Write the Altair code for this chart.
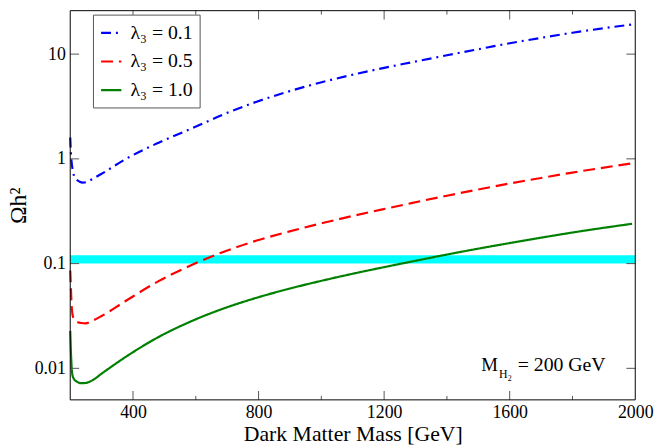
import altair as alt
import pandas as pd

# ---------------- data ----------------
SERIES = ["λ₃ = 0.1", "λ₃ = 0.5", "λ₃ = 1.0"]

mass_01 = [200, 202, 204, 208, 212, 220, 230, 240, 255, 270, 300, 375, 480, 585,
           690, 794, 899, 1004, 1109, 1200, 1287, 1400, 1497, 1600, 1706, 1800, 1990]
omega_01 = [1.60, 1.15, 0.95, 0.78, 0.69, 0.635, 0.605, 0.593, 0.605, 0.64, 0.72,
            0.99, 1.42, 1.94, 2.67, 3.51, 4.43, 5.42, 6.45, 7.40, 8.35, 9.75, 11.1,
            12.7, 14.4, 16.0, 19.2]

mass_05 = [200, 202, 204, 207, 212, 220, 235, 249, 270, 300, 375, 480, 585, 690,
           794, 899, 1004, 1109, 1200, 1287, 1400, 1497, 1600, 1706, 1800, 1990]
omega_05 = [0.086, 0.06, 0.042, 0.033, 0.0295, 0.028, 0.0271, 0.0269, 0.0284, 0.0316,
            0.0437, 0.0676, 0.0964, 0.130, 0.166, 0.203, 0.244, 0.289, 0.332, 0.378,
            0.445, 0.508, 0.582, 0.662, 0.740, 0.905]

mass_10 = [200, 203, 207, 212, 220, 235, 249, 270, 300, 375, 480, 585, 690, 794,
           899, 1004, 1109, 1200, 1287, 1400, 1497, 1600, 1706, 1800, 1990]
omega_10 = [0.0228, 0.0125, 0.0086, 0.0079, 0.0075, 0.00722, 0.00725, 0.00767, 0.0089,
            0.01276, 0.0198, 0.0281, 0.0374, 0.0472, 0.0577, 0.0689, 0.0811, 0.0925,
            0.1045, 0.122, 0.1384, 0.157, 0.178, 0.198, 0.240]

band_mass = [200, 2000]
band_omega = [0.1, 0.12]

x_label_values = [400, 800, 1200, 1600, 2000]
x_major_ticks = [400, 800, 1200, 1600]
x_minor_ticks = [600, 1000, 1400, 1800]
y_ticks = [0.01, 0.1, 1, 10]

annot_parts = ["M", "H", "2", "=  200 GeV"]

X_TITLE = "Dark Matter Mass [GeV]"
Y_TITLE = "Ωh²"

# ---------------- build tables ----------------
rows = []
for name, ms, vs in zip(SERIES, [mass_01, mass_05, mass_10], [omega_01, omega_05, omega_10]):
    for m, v in zip(ms, vs):
        rows.append({"series": name, "mass": m, "omega": v})
curves = pd.DataFrame(rows)

band = pd.DataFrame({"x0": [band_mass[0]], "x1": [band_mass[1]],
                     "y0": [band_omega[0]], "y1": [band_omega[1]]})

W, H = 572, 394
FONT = "Liberation Serif"

xaxis = alt.Axis(values=x_label_values, format="d", ticks=False, domain=False, grid=False,
                 labelFont=FONT, labelFontSize=18, labelPadding=4, labelFlush=False,
                 labelColor="black",
                 title=X_TITLE, titleFont=FONT, titleFontSize=22, titleFontWeight="normal",
                 titleColor="black", titlePadding=2)
yaxis = alt.Axis(values=y_ticks, format="~g", ticks=False, domain=False, grid=False,
                 labelFont=FONT, labelFontSize=18, labelPadding=5, labelColor="black",
                 title=Y_TITLE, titleFont=FONT, titleFontSize=24, titleFontWeight="normal",
                 titleColor="black", titlePadding=4)

xscale = alt.Scale(domain=[200, 2000], nice=False, zero=False)
yscale = alt.Scale(type="log", domain=[0.005, 26], nice=False)


def X(f):
    return alt.X(f"{f}:Q", scale=xscale, axis=xaxis)


def Y(f):
    return alt.Y(f"{f}:Q", scale=yscale, axis=yaxis)


legend = alt.Legend(orient="none", legendX=23, legendY=4, title=None,
                    fillColor="white", strokeColor="#555555", padding=7,
                    labelFontSize=20, labelFont=FONT, labelColor="black",
                    symbolType="stroke", symbolSize=420, rowPadding=7,
                    labelOffset=8, symbolStrokeWidth=2)

band_layer = alt.Chart(band).mark_rect(color="#00FFFF").encode(
    x=X("x0"), x2="x1", y=Y("y0"), y2="y1")

lines = alt.Chart(curves).mark_line(interpolate="monotone").encode(
    x=X("mass"),
    y=Y("omega"),
    color=alt.Color("series:N", scale=alt.Scale(domain=SERIES,
                    range=["#0000FF", "#FF0000", "#008000"]), legend=legend),
    strokeDash=alt.StrokeDash("series:N", scale=alt.Scale(domain=SERIES,
                              range=[[10, 5, 2, 5], [12, 6], [1, 0]]), legend=legend),
    strokeWidth=alt.StrokeWidth("series:N", scale=alt.Scale(domain=SERIES,
                                range=[2.2, 2.2, 1.6]), legend=legend),
)

TICK = "#555555"
xmaj = pd.DataFrame({"t": x_major_ticks})
xmin = pd.DataFrame({"t": x_minor_ticks})
ytk = pd.DataFrame({"t": y_ticks})

ticks = [
    alt.Chart(xmaj).mark_rule(color=TICK).encode(x=X("t"), y=alt.value(H), y2=alt.value(H - 9)),
    alt.Chart(xmaj).mark_rule(color=TICK).encode(x=X("t"), y=alt.value(0), y2=alt.value(9)),
    alt.Chart(xmin).mark_rule(color=TICK).encode(x=X("t"), y=alt.value(H), y2=alt.value(H - 4)),
    alt.Chart(xmin).mark_rule(color=TICK).encode(x=X("t"), y=alt.value(0), y2=alt.value(4)),
    alt.Chart(ytk).mark_rule(color=TICK).encode(y=Y("t"), x=alt.value(0), x2=alt.value(9)),
    alt.Chart(ytk).mark_rule(color=TICK).encode(y=Y("t"), x=alt.value(W), x2=alt.value(W - 9)),
]

frame = alt.Chart(pd.DataFrame({"a": [0]})).mark_rect(
    filled=False, stroke="black", strokeWidth=1).encode(
    x=alt.value(0), x2=alt.value(W), y=alt.value(0), y2=alt.value(H))

ann = pd.DataFrame({"t": annot_parts})
annot = [
    alt.Chart(ann.iloc[[0]]).mark_text(font=FONT, fontSize=19, align="left", baseline="alphabetic",
                                      color="black").encode(text="t", x=alt.value(416), y=alt.value(365)),
    alt.Chart(ann.iloc[[1]]).mark_text(font=FONT, fontSize=12, align="left", baseline="alphabetic",
                                      color="black").encode(text="t", x=alt.value(434), y=alt.value(372)),
    alt.Chart(ann.iloc[[2]]).mark_text(font=FONT, fontSize=8, align="left", baseline="alphabetic",
                                      color="black").encode(text="t", x=alt.value(443), y=alt.value(375)),
    alt.Chart(ann.iloc[[3]]).mark_text(font=FONT, fontSize=20, align="left", baseline="alphabetic",
                                      color="black").encode(text="t", x=alt.value(453), y=alt.value(365)),
]

chart = alt.layer(band_layer, lines, *ticks, frame, *annot).properties(
    width=W, height=H,
    autosize=alt.AutoSizeParams(type="none"),
    padding={"left": 63, "top": 0, "right": 21, "bottom": 43},
).configure(font=FONT).configure_view(stroke=None).configure_axis(
    labelFont=FONT, titleFont=FONT).configure_legend(labelFont=FONT).configure_text(font=FONT)

chart.save("out.html", embed_options={"renderer": "svg", "actions": False})
